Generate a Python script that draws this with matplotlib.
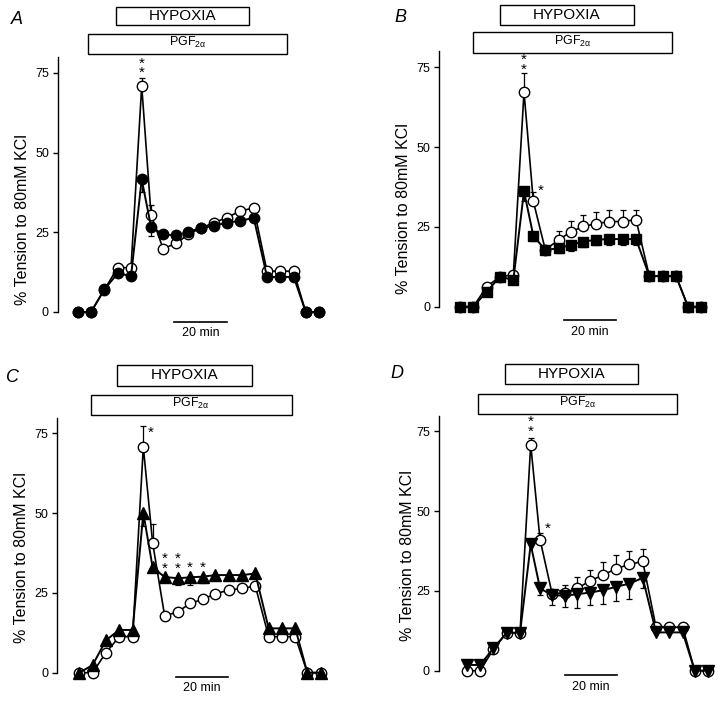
import matplotlib
matplotlib.use("Agg")
import matplotlib.pyplot as plt
from matplotlib.patches import Rectangle

plt.rcParams['font.family'] = ['Liberation Sans', 'DejaVu Sans']
plt.rcParams['mathtext.fontset'] = 'custom'
plt.rcParams['mathtext.rm'] = 'Liberation Sans'
plt.rcParams['mathtext.it'] = 'Liberation Sans:italic'

# sampling times (min), same for all four panels
t = [0, 5, 10, 15, 20, 24, 27.5, 32, 37, 41.5, 46.25, 51, 56, 61, 66, 71, 76, 81, 85.5, 90.5]

# panel A: open circles (control) and filled circles
a_open = [0, 0, 7, 13.9, 13.9, 70.9, 30.5, 19.9, 21.5, 24.4, 26.3, 28, 29.6, 31.7, 32.6, 12.7, 12.9, 12.7, 0, 0]
a_open_err = [0, 0, 0, 0, 0, 2.4, 3, 0, 0, 0, 0, 0, 0, 0, 0, 0, 0, 0, 0, 0]
a_fill = [0, 0, 7.1, 12.1, 11.3, 41.6, 26.7, 24.3, 24, 25.2, 26.3, 27, 28, 28.6, 29.5, 11, 11, 11, 0, 0]
a_fill_err = [0, 0, 0, 0, 0, 4, 3, 0, 0, 0, 0, 0, 0, 0, 0, 0, 0, 0, 0, 0]

# panel B: open circles and filled squares
b_open = [0, 0, 6.3, 9.4, 10, 67.3, 33, 17.8, 21, 23.4, 25.2, 26, 26.7, 26.7, 27.3, 9.6, 9.6, 9.6, 0, 0]
b_open_err = [0, 0, 0, 0, 0, 5.9, 3, 0, 2.8, 3.5, 3.4, 3.7, 3.5, 3.5, 3.1, 0, 0, 0, 0, 0]
b_fill = [0, 0, 4.7, 9.4, 8.4, 36.2, 22.2, 17.8, 18.3, 19.4, 20.4, 21, 21.2, 21.2, 21.2, 9.6, 9.6, 9.6, 0, 0]
b_fill_err = [0, 0, 0, 0, 0, 3, 1.5, 0, 1.5, 1.8, 1.8, 1.8, 1.8, 2, 1.8, 0, 0, 0, 0, 0]

# panel C: open circles and filled up-triangles
c_open = [0, 0, 6.3, 11.3, 11.3, 70.8, 40.7, 17.8, 19.1, 21.7, 23, 24.7, 25.9, 26.4, 27.2, 11.3, 11.3, 11.3, 0, 0]
c_open_err = [0, 0, 0, 0, 0, 6.5, 6, 0, 0, 0, 0, 0, 0, 0, 0, 0, 0, 0, 0, 0]
c_fill = [0, 2.4, 10.2, 13.4, 13.4, 50.1, 33, 30, 29.6, 29.9, 30.1, 30.6, 30.6, 30.6, 31.1, 13.9, 13.9, 13.9, 0, 0]
c_fill_err = [0, 0, 0, 0, 0, 4, 0, 1.5, 2, 2.5, 2, 1.5, 1.5, 1.5, 1, 0, 0, 0, 0, 0]

# panel D: open circles and filled down-triangles
d_open = [0, 0, 6.7, 11.9, 11.9, 70.9, 41.1, 24.2, 24.4, 25.8, 28.2, 29.9, 32, 33.3, 34.3, 13.6, 13.6, 13.6, 0, 0]
d_open_err = [0, 0, 0, 0, 0, 2, 2, 0, 2.4, 3.6, 3.3, 4.2, 4.2, 4.1, 3.7, 0, 0, 0, 0, 0]
d_fill = [1.8, 1.8, 7, 11.9, 11.9, 39.6, 25.8, 23.7, 23.5, 24, 24.5, 25.2, 26.3, 27.3, 29.1, 12, 12, 12, 0, 0]
d_fill_err = [0, 0, 0, 0, 0, 0, 2, 3.2, 3.5, 4.5, 4, 4.2, 4.5, 4.9, 3.3, 0, 0, 0, 0, 0]

# treatment periods (min): hypoxia and PGF2a
hypoxia = {'A': (14.4, 64.4), 'B': (15, 65.25), 'C': (14.25, 64.9), 'D': (14.4, 64.4)}
pgf = {'A': (4, 78.6), 'B': (5, 79.4), 'C': (4.25, 79.6), 'D': (4.4, 78.75)}

# significance marks: (time index, x shift, y, text)
stars = {
    'A': [(5, 0, 76.4, '*\n*')],
    'B': [(5, 0, 75.9, '*\n*'), (6, 2.8, 36.4, '*')],
    'C': [(5, 2.8, 75.2, '*'), (7, 0, 34.2, '*\n*'), (8, 0, 34.2, '*\n*'),
          (9, 0, 33.0, '*'), (10, 0, 33.0, '*')],
    'D': [(5, 0, 76.4, '*\n*'), (6, 2.8, 44.6, '*')],
}

W, H = 720, 701
SX, SY = 2.667, 3.19  # px per minute, px per % unit

# pixel layout of each panel
layout = {
    'A': dict(x0=77.7, y0=312.0, spine=-7.4, lab=(17, 19), ylab=(23, 29),
              hyp_y=(90, 95.6), pgf_y=(80.9, 87.2), bar=(36, 56, -3.1, -6.6)),
    'B': dict(x0=460.0, y0=306.7, spine=-7.8, lab=(400, 18), ylab=(403, 30.8),
              hyp_y=(88.3, 94.6), pgf_y=(79.4, 86.0), bar=(39, 58.5, -4.2, -7.8)),
    'C': dict(x0=79.3, y0=672.7, spine=-8.25, lab=(13, 378), ylab=(22, 36),
              hyp_y=(90, 96.5), pgf_y=(80.8, 87.1), bar=(36.1, 55.6, -1.25, -4.9)),
    'D': dict(x0=466.7, y0=670.7, spine=-10.4, lab=(397, 373), ylab=(407, 36),
              hyp_y=(90, 96), pgf_y=(80.5, 86.8), bar=(36.9, 56.5, -1.35, -5.0)),
}

XL = (-30, 100)
YL = (-14, 100)

fig = plt.figure(figsize=(W / 100, H / 100), dpi=100)


def draw_panel(key, yo, eo, yf, ef, fmarker, fsize):
    L = layout[key]
    left = L['x0'] + XL[0] * SX
    top = L['y0'] - YL[1] * SY
    w = (XL[1] - XL[0]) * SX
    h = (YL[1] - YL[0]) * SY
    ax = fig.add_axes([left / W, 1 - (top + h) / H, w / W, h / H])
    ax.set_xlim(*XL)
    ax.set_ylim(*YL)
    ax.patch.set_alpha(0)
    for s in ['top', 'right', 'bottom']:
        ax.spines[s].set_visible(False)
    ax.spines['left'].set_position(('data', L['spine']))
    ax.spines['left'].set_bounds(0, 80)
    ax.spines['left'].set_linewidth(1.0)
    ax.set_xticks([])
    ax.set_yticks([0, 25, 50, 75])
    ax.tick_params(axis='y', length=3.5, width=1.0, labelsize=9, pad=3)

    ax.errorbar(t, yo, yerr=[[0] * len(eo), eo], fmt='none', ecolor='black',
                elinewidth=0.9, capsize=2.5, capthick=0.9, zorder=2, clip_on=False)
    ax.plot(t, yo, '-o', color='black', lw=1.2, ms=7.5, mfc='white', mec='black',
            mew=1.0, zorder=3, clip_on=False)
    ax.errorbar(t, yf, yerr=[ef, [0] * len(ef)], fmt='none', ecolor='black',
                elinewidth=0.9, capsize=2.5, capthick=0.9, zorder=4, clip_on=False)
    ax.plot(t, yf, '-', marker=fmarker, color='black', lw=1.4, ms=fsize, mfc='black',
            mec='black', zorder=5, clip_on=False)

    # treatment boxes
    h0, h1 = hypoxia[key]
    y0, y1 = L['hyp_y']
    ax.add_patch(Rectangle((h0, y0), h1 - h0, y1 - y0, fc='white', ec='black',
                           lw=1.0, clip_on=False))
    ax.text((h0 + h1) / 2, (y0 + y1) / 2, 'HYPOXIA', ha='center', va='center',
            fontsize=11)
    p0, p1 = pgf[key]
    y0, y1 = L['pgf_y']
    ax.add_patch(Rectangle((p0, y0), p1 - p0, y1 - y0, fc='white', ec='black',
                           lw=1.0, clip_on=False))
    ax.text((p0 + p1) / 2, (y0 + y1) / 2 + 0.3, r'PGF$_{\mathregular{2\alpha}}$',
            ha='center', va='center', fontsize=9)

    for i, dx, y, s in stars[key]:
        ax.text(t[i] + dx, y, s, ha='center', va='center', fontsize=11,
                linespacing=0.6)

    # 20 min scale bar
    b0, b1, by, ty = L['bar']
    ax.plot([b0, b1], [by, by], color='black', lw=1.2, clip_on=False)
    ax.text((b0 + b1) / 2, ty, '20 min', ha='center', va='center', fontsize=9)

    # y label and panel letter
    lx, ly = L['ylab']
    fig.text(lx / W, 1 - (L['y0'] - ly * SY) / H, '% Tension to 80mM KCl',
             rotation=90, ha='center', va='center', fontsize=11.5)
    px, py = L['lab']
    fig.text(px / W, 1 - py / H, key, fontsize=13, style='italic',
             ha='center', va='center')
    return ax


draw_panel('A', a_open, a_open_err, a_fill, a_fill_err, 'o', 7.5)
draw_panel('B', b_open, b_open_err, b_fill, b_fill_err, 's', 7)
draw_panel('C', c_open, c_open_err, c_fill, c_fill_err, '^', 8)
draw_panel('D', d_open, d_open_err, d_fill, d_fill_err, 'v', 8)

fig.savefig('out.png', dpi=100)
